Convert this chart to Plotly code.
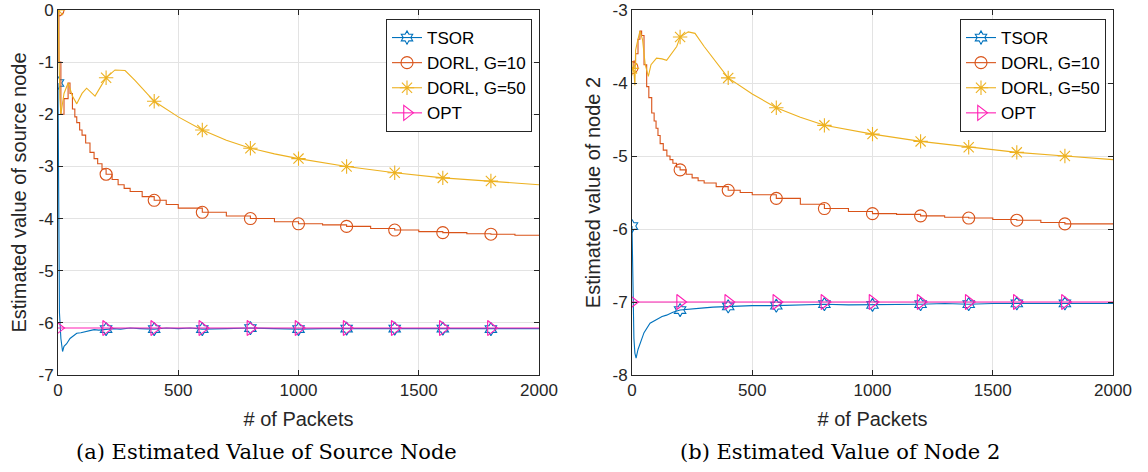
import plotly.graph_objects as go

# ---------------- data: left panel (source node) ----------------
a_tsor_x = [0, 3, 6, 12, 19, 25, 36, 50, 65, 78, 95, 119, 135, 150, 170, 200, 230, 260, 300, 340, 400, 450, 500, 550, 600, 700, 800, 900, 1000, 1100, 1200, 1300, 1400, 1500, 1600, 1700, 1800, 1900, 2000]
a_tsor_y = [-1.4, -4.0, -5.8, -6.3, -6.55, -6.45, -6.4, -6.3, -6.25, -6.2, -6.19, -6.17, -6.15, -6.13, -6.14, -6.12, -6.11, -6.12, -6.1, -6.11, -6.12, -6.1, -6.11, -6.1, -6.12, -6.11, -6.1, -6.11, -6.12, -6.11, -6.11, -6.12, -6.11, -6.12, -6.11, -6.12, -6.12, -6.11, -6.11]

a_g10_x = [0, 4, 12, 25, 42, 50, 60, 70, 78, 90, 100, 115, 133, 150, 165, 183, 200, 225, 250, 275, 300, 350, 400, 450, 500, 600, 700, 800, 900, 1000, 1100, 1200, 1300, 1400, 1500, 1600, 1700, 1800, 1900, 2000]
a_g10_y = [0.0, -1.0, -2.0, -1.7, -1.4, -1.6, -1.9, -2.05, -2.16, -2.3, -2.4, -2.55, -2.73, -2.85, -2.95, -3.05, -3.15, -3.25, -3.35, -3.42, -3.48, -3.58, -3.65, -3.73, -3.8, -3.88, -3.95, -4.0, -4.06, -4.1, -4.12, -4.15, -4.19, -4.22, -4.25, -4.27, -4.29, -4.3, -4.32, -4.33]

a_g50_x = [0, 4, 8, 12, 25, 42, 60, 78, 100, 119, 154, 180, 200, 237, 279, 320, 400, 500, 600, 700, 800, 900, 1000, 1200, 1400, 1600, 1800, 2000]
a_g50_y = [0.0, -1.2, -1.7, -2.0, -1.6, -1.4, -1.65, -1.8, -1.6, -1.5, -1.65, -1.45, -1.3, -1.15, -1.16, -1.35, -1.75, -2.05, -2.3, -2.5, -2.65, -2.76, -2.85, -3.0, -3.12, -3.22, -3.28, -3.35]

a_opt_x = [0, 200, 400, 600, 800, 1000, 1200, 1400, 1600, 1800, 2000]
a_opt_y = [-6.1, -6.1, -6.1, -6.1, -6.1, -6.1, -6.1, -6.1, -6.1, -6.1, -6.1]

# ---------------- data: right panel (node 2) ----------------
b_tsor_x = [0, 3, 8, 12, 17, 25, 33, 50, 75, 100, 125, 144, 170, 200, 250, 300, 337, 400, 450, 500, 600, 700, 800, 900, 1000, 1100, 1200, 1300, 1400, 1500, 1600, 1700, 1800, 1900, 2000]
b_tsor_y = [-5.96, -6.8, -7.5, -7.7, -7.77, -7.65, -7.57, -7.42, -7.29, -7.24, -7.2, -7.18, -7.14, -7.11, -7.1, -7.08, -7.07, -7.06, -7.06, -7.05, -7.05, -7.04, -7.03, -7.04, -7.04, -7.03, -7.03, -7.02, -7.03, -7.02, -7.02, -7.03, -7.02, -7.02, -7.02]

b_g10_x = [0, 8, 15, 25, 33, 40, 50, 61, 70, 82, 92, 100, 108, 117, 130, 145, 158, 170, 185, 200, 225, 250, 275, 300, 350, 400, 450, 500, 600, 700, 800, 900, 1000, 1100, 1200, 1300, 1400, 1500, 1600, 1700, 1800, 1900, 2000]
b_g10_y = [-3.79, -3.7, -3.6, -3.4, -3.29, -3.35, -3.75, -4.05, -4.2, -4.41, -4.52, -4.62, -4.72, -4.83, -4.92, -5.0, -5.05, -5.1, -5.15, -5.19, -5.25, -5.3, -5.34, -5.37, -5.42, -5.47, -5.5, -5.53, -5.58, -5.66, -5.72, -5.76, -5.79, -5.8, -5.82, -5.84, -5.85, -5.87, -5.88, -5.91, -5.93, -5.93, -5.93]

b_g50_x = [0, 8, 12, 15, 25, 33, 44, 55, 68, 79, 102, 125, 144, 165, 186, 200, 234, 262, 300, 400, 500, 600, 700, 800, 900, 1000, 1200, 1400, 1600, 1800, 2000]
b_g50_y = [-3.8, -3.85, -4.03, -3.55, -3.4, -3.29, -3.41, -3.75, -3.91, -3.75, -3.66, -3.67, -3.69, -3.6, -3.5, -3.37, -3.3, -3.32, -3.5, -3.93, -4.15, -4.34, -4.47, -4.58, -4.64, -4.7, -4.8, -4.88, -4.95, -5.0, -5.05]

b_opt_x = [0, 200, 400, 600, 800, 1000, 1200, 1400, 1600, 1800, 2000]
b_opt_y = [-7.0, -7.0, -7.0, -7.0, -7.0, -7.0, -7.0, -7.0, -7.0, -7.0, -7.0]

series_names = ["TSOR", "DORL, G=10", "DORL, G=50", "OPT"]
x_ticks = [0, 500, 1000, 1500, 2000]
x_ticklabels = ["0", "500", "1000", "1500", "2000"]
a_yticks = [0, -1, -2, -3, -4, -5, -6, -7]
a_yticklabels = ["0", "-1", "-2", "-3", "-4", "-5", "-6", "-7"]
b_yticks = [-3, -4, -5, -6, -7, -8]
b_yticklabels = ["-3", "-4", "-5", "-6", "-7", "-8"]
marker_step = 200

colors = ["#0072BD", "#D95319", "#EDB120", "#FF1FB4"]
symbols = ["hexagram-open", "circle-open", "asterisk-open", "triangle-right-open"]
msizes = [10, 12, 12, 13]
shapes = ["linear", "hv", "linear", "linear"]

fig = go.Figure()
FONT = "Liberation Sans, Arial, sans-serif"
SERIF = "DejaVu Serif, Liberation Serif, serif"

panels = [
    ("x", "y", "legend", [(a_tsor_x, a_tsor_y), (a_g10_x, a_g10_y), (a_g50_x, a_g50_y), (a_opt_x, a_opt_y)]),
    ("x2", "y2", "legend2", [(b_tsor_x, b_tsor_y), (b_g10_x, b_g10_y), (b_g50_x, b_g50_y), (b_opt_x, b_opt_y)]),
]

for xa, ya, lg, data in panels:
    for i, (xs, ys) in enumerate(data):
        fig.add_trace(go.Scatter(x=xs, y=ys, mode="lines", xaxis=xa, yaxis=ya,
                                 line=dict(color=colors[i], width=1.1, shape=shapes[i]), showlegend=False,
                                 hoverinfo="skip"))
        mx = [x for x in xs if x % marker_step == 0 and x < 2000]
        my = [y for x, y in zip(xs, ys) if x % marker_step == 0 and x < 2000]
        fig.add_trace(go.Scatter(x=mx, y=my, mode="markers", xaxis=xa, yaxis=ya,
                                 marker=dict(symbol=symbols[i], size=msizes[i], color=colors[i],
                                             line=dict(width=1.1, color=colors[i])),
                                 showlegend=False))
        # legend entry
        fig.add_trace(go.Scatter(x=[None], y=[None], mode="lines+markers", xaxis=xa, yaxis=ya,
                                 name=series_names[i], legend=lg,
                                 line=dict(color=colors[i], width=1.1),
                                 marker=dict(symbol=symbols[i], size=msizes[i], color=colors[i],
                                             line=dict(width=1.1, color=colors[i]))))

W, H = 1148, 472
dom_a = [58 / W, 539 / W]
dom_b = [632 / W, 1113 / W]
dom_y = [1 - 375 / H, 1 - 10 / H]

axis_common = dict(showgrid=True, gridcolor="#E3E3E3", gridwidth=1, zeroline=False,
                   showline=True, linecolor="#262626", linewidth=1, mirror="ticks",
                   ticks="inside", ticklen=5, tickcolor="#262626", automargin=False,
                   tickfont=dict(family=FONT, size=17, color="#262626"))

title_font = dict(family=FONT, size=20, color="#262626")
leg_common = dict(bgcolor="white", bordercolor="#262626", borderwidth=1,
                  font=dict(family=FONT, size=17, color="#000000"),
                  tracegroupgap=0, itemwidth=30, xanchor="right", yanchor="top")

fig.update_layout(
    width=W, height=H,
    margin=dict(l=0, r=0, t=0, b=0),
    paper_bgcolor="white", plot_bgcolor="white",
    xaxis=dict(domain=dom_a, range=[0, 2000], tickvals=x_ticks, ticktext=x_ticklabels, anchor="y",
               title=dict(text="# of Packets", font=title_font, standoff=12), **axis_common),
    yaxis=dict(domain=dom_y, range=[-7, 0], tickvals=a_yticks, ticktext=a_yticklabels, anchor="x",
               title=dict(text="Estimated value of source node", font=title_font, standoff=6), **axis_common),
    xaxis2=dict(domain=dom_b, range=[0, 2000], tickvals=x_ticks, ticktext=x_ticklabels, anchor="y2",
                title=dict(text="# of Packets", font=title_font, standoff=12), **axis_common),
    yaxis2=dict(domain=dom_y, range=[-8, -3], tickvals=b_yticks, ticktext=b_yticklabels, anchor="x2",
                title=dict(text="Estimated value of node 2", font=title_font, standoff=6), **axis_common),
    legend=dict(x=532 / W, y=1 - 19 / H, **leg_common),
    legend2=dict(x=1106 / W, y=1 - 19 / H, **leg_common),
    annotations=[
        dict(text="(a) Estimated Value of Source Node", x=266 / W, y=1 - 452 / H, xref="paper", yref="paper",
             xanchor="center", yanchor="middle", showarrow=False, font=dict(family=SERIF, size=21, color="#000")),
        dict(text="(b) Estimated Value of Node 2", x=840 / W, y=1 - 452 / H, xref="paper", yref="paper",
             xanchor="center", yanchor="middle", showarrow=False, font=dict(family=SERIF, size=21, color="#000")),
    ],
)

fig.write_html("out.html")
